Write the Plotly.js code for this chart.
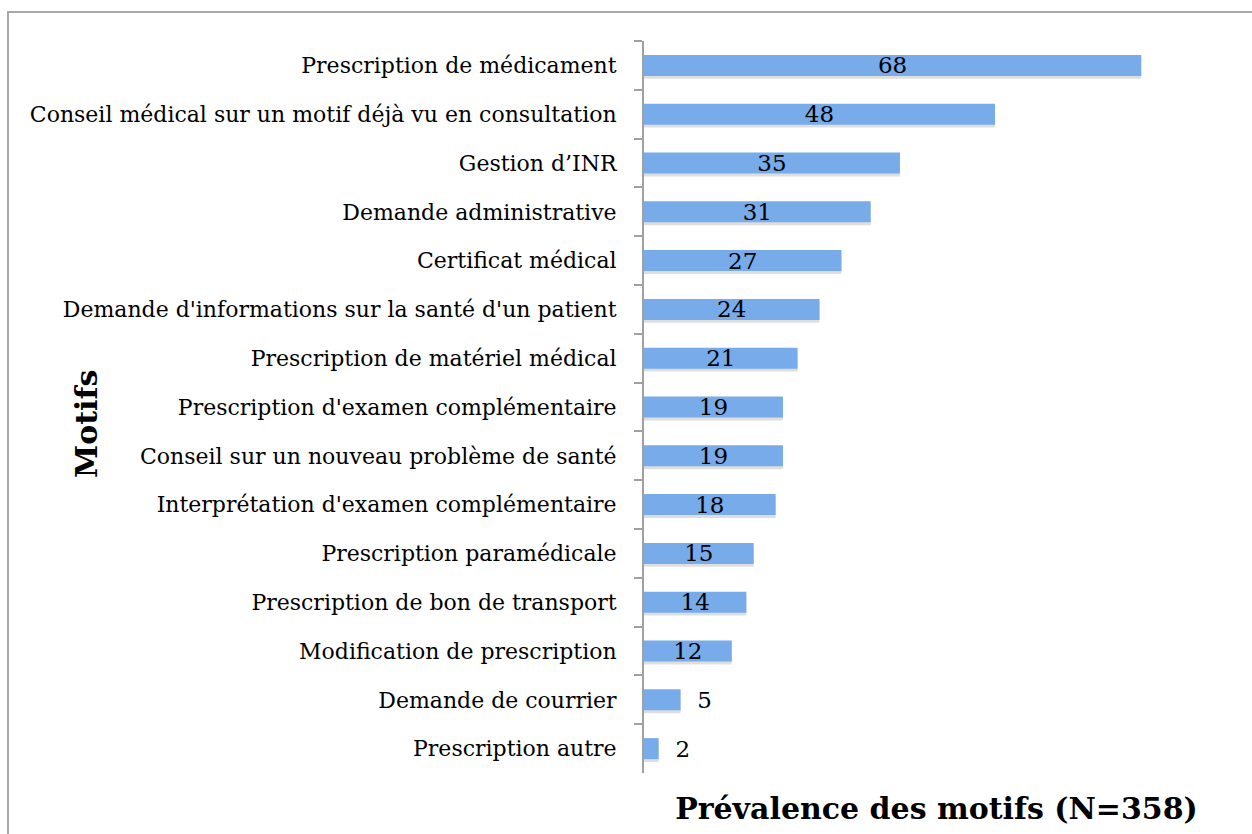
<!DOCTYPE html>
<html>
<head>
<meta charset="utf-8">
<script src="https://cdn.plot.ly/plotly-3.0.1.min.js"></script>
<style>
  html, body { margin: 0; padding: 0; background: #fff; }
  #wrap { position: relative; width: 1252px; height: 834px; overflow: hidden; }
  #chart { position: absolute; left: 0; top: 0; width: 1252px; height: 834px; }
  #frame { position: absolute; left: 7px; top: 11px; width: 1260px; height: 840px;
           border-left: 2px solid #a8a8a8; border-top: 2px solid #a8a8a8; pointer-events: none; }
</style>
</head>
<body>
<div id="wrap">
  <div id="chart"></div>
  <div id="frame"></div>
</div>
<script>
const categories = [
  "Prescription de médicament",
  "Conseil médical sur un motif déjà vu en consultation",
  "Gestion d’INR",
  "Demande administrative",
  "Certificat médical",
  "Demande d'informations sur la santé d'un patient",
  "Prescription de matériel médical",
  "Prescription d'examen complémentaire",
  "Conseil sur un nouveau problème de santé",
  "Interprétation d'examen complémentaire",
  "Prescription paramédicale",
  "Prescription de bon de transport",
  "Modification de prescription",
  "Demande de courrier",
  "Prescription autre"
];
const values = [68, 48, 35, 31, 27, 24, 21, 19, 19, 18, 15, 14, 12, 5, 2];
const xTitle = "Prévalence des motifs (N=358)";
const yTitle = "Motifs";

const FONT = "DejaVu Serif, Liberation Serif, serif";
const BAR_W = 0.43;

const shadow = {
  type: "bar",
  orientation: "h",
  x: values,
  y: categories,
  width: BAR_W,
  offset: -BAR_W / 2 + 0.06,
  marker: { color: "rgba(0,0,0,0.13)", line: { width: 0 } },
  hoverinfo: "skip"
};

const trace = {
  type: "bar",
  orientation: "h",
  x: values,
  y: categories,
  width: BAR_W,
  offset: -BAR_W / 2,
  marker: { color: "#77abea", line: { width: 0 } },
  text: values.map(v => v >= 10 ? String(v) : "\u2002\u200A" + v),
  textposition: values.map(v => v >= 10 ? "inside" : "outside"),
  insidetextanchor: "middle",
  constraintext: "none",
  cliponaxis: false,
  textfont: { family: FONT, size: 23, color: "#000" },
  hoverinfo: "x+y"
};

const layout = {
  width: 1252,
  height: 834,
  margin: { l: 644, r: 23, t: 41, b: 61, autoexpand: false },
  barmode: "overlay",
  paper_bgcolor: "#fff",
  plot_bgcolor: "#fff",
  showlegend: false,
  font: { family: FONT, color: "#000" },
  xaxis: {
    range: [0, 80],
    showgrid: false,
    zeroline: false,
    showline: false,
    showticklabels: false,
    ticks: "",
    automargin: false,
    fixedrange: true,
    title: { text: xTitle, font: { family: FONT, size: 30, color: "#000", weight: "bold" }, standoff: 24 }
  },
  yaxis: {
    type: "category",
    autorange: "reversed",
    showgrid: false,
    zeroline: false,
    showline: true,
    linecolor: "#a0a0a0",
    linewidth: 2,
    ticks: "outside",
    tickson: "boundaries",
    ticklen: 8,
    tickwidth: 2,
    tickcolor: "#a0a0a0",
    ticklabelstandoff: 21,
    tickfont: { family: FONT, size: 22, color: "#000" },
    automargin: false,
    fixedrange: true
  },
  annotations: [{
    text: yTitle,
    xref: "paper", yref: "paper",
    x: (86 - 644) / 585, y: (834 - 61 - 424) / 732,
    xanchor: "center", yanchor: "middle",
    textangle: -90,
    showarrow: false,
    font: { family: FONT, size: 30, color: "#000", weight: "bold" }
  }]
};

Plotly.newPlot("chart", [shadow, trace], layout, { displayModeBar: false, staticPlot: true });
</script>
</body>
</html>
